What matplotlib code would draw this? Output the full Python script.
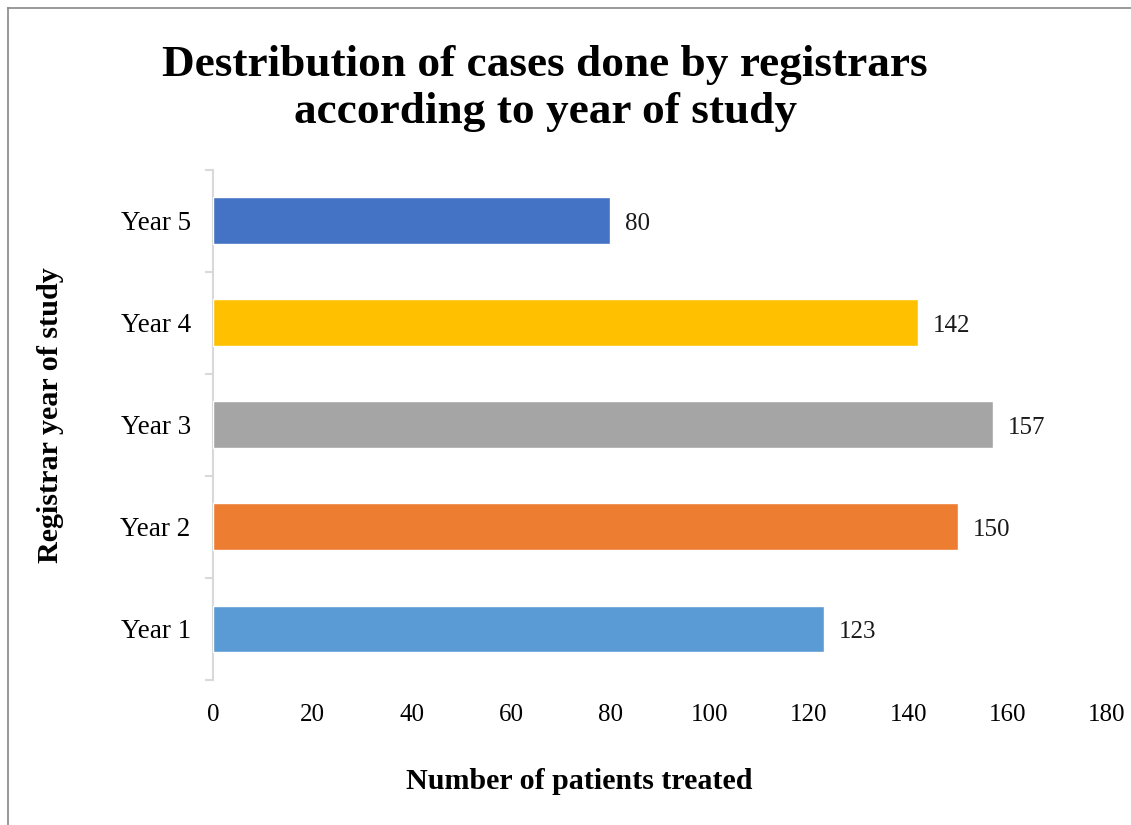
import matplotlib
matplotlib.use("Agg")
import matplotlib.pyplot as plt
from matplotlib.lines import Line2D
import numpy as np

categories = ["Year 1", "Year 2", "Year 3", "Year 4", "Year 5"]
values = [123, 150, 157, 142, 80]
colors = ["#5B9BD5", "#ED7D31", "#A5A5A5", "#FFC000", "#4472C4"]
xticks = [0, 20, 40, 60, 80, 100, 120, 140, 160, 180]

plt.rcParams['font.family'] = ['Liberation Serif', 'DejaVu Serif']

fig = plt.figure(figsize=(11.31, 8.25), dpi=100)
ax = fig.add_axes([0.1883, 0.1758, 0.9788 - 0.1883, 0.794 - 0.1758])

y = np.arange(len(categories))
ax.barh(y, values, height=0.46, color=colors, edgecolor="white", linewidth=1, zorder=3)

for yi, v in zip(y, values):
    ax.text(v + 3, yi - 0.03, str(v), va="center", ha="left", fontsize=18, color="#1a1a1a")

ax.set_xlim(0, 180)
ax.set_ylim(-0.5, len(categories) - 0.5)
ax.set_xticks(xticks)
ax.set_xticklabels([str(t) for t in xticks], fontsize=18)
ax.set_yticks(y)
ax.set_yticklabels(categories, fontsize=19.5)
ax.set_yticks(np.arange(-0.5, len(categories), 1), minor=True)
ax.tick_params(axis="y", which="major", length=0, pad=16)
ax.tick_params(axis="y", which="minor", length=6, color="#D9D9D9", width=1.5, direction="out")
ax.tick_params(axis="x", which="both", length=0, pad=17)

for s in ["top", "right", "bottom"]:
    ax.spines[s].set_visible(False)
ax.spines["left"].set_color("#D9D9D9")
ax.spines["left"].set_linewidth(1.5)

ax.set_xlabel("Number of patients treated", fontsize=21.6, fontweight="bold")
ax.xaxis.set_label_coords(0.41, -0.172)
ax.set_ylabel("Registrar year of study", fontsize=21.7, fontweight="bold")
ax.yaxis.set_label_coords(-0.167, 0.52)

fig.text(0.482, 0.893, "Destribution of cases done by registrars\naccording to year of study",
         ha="center", va="center", fontsize=32.6, fontweight="bold", linespacing=1.22)

fig.add_artist(Line2D([0.007, 1.0], [0.99, 0.99], color="#888888", linewidth=1.2, transform=fig.transFigure))
fig.add_artist(Line2D([0.007, 0.007], [0.0, 0.99], color="#888888", linewidth=1.2, transform=fig.transFigure))

fig.savefig("out.png", dpi=100)
